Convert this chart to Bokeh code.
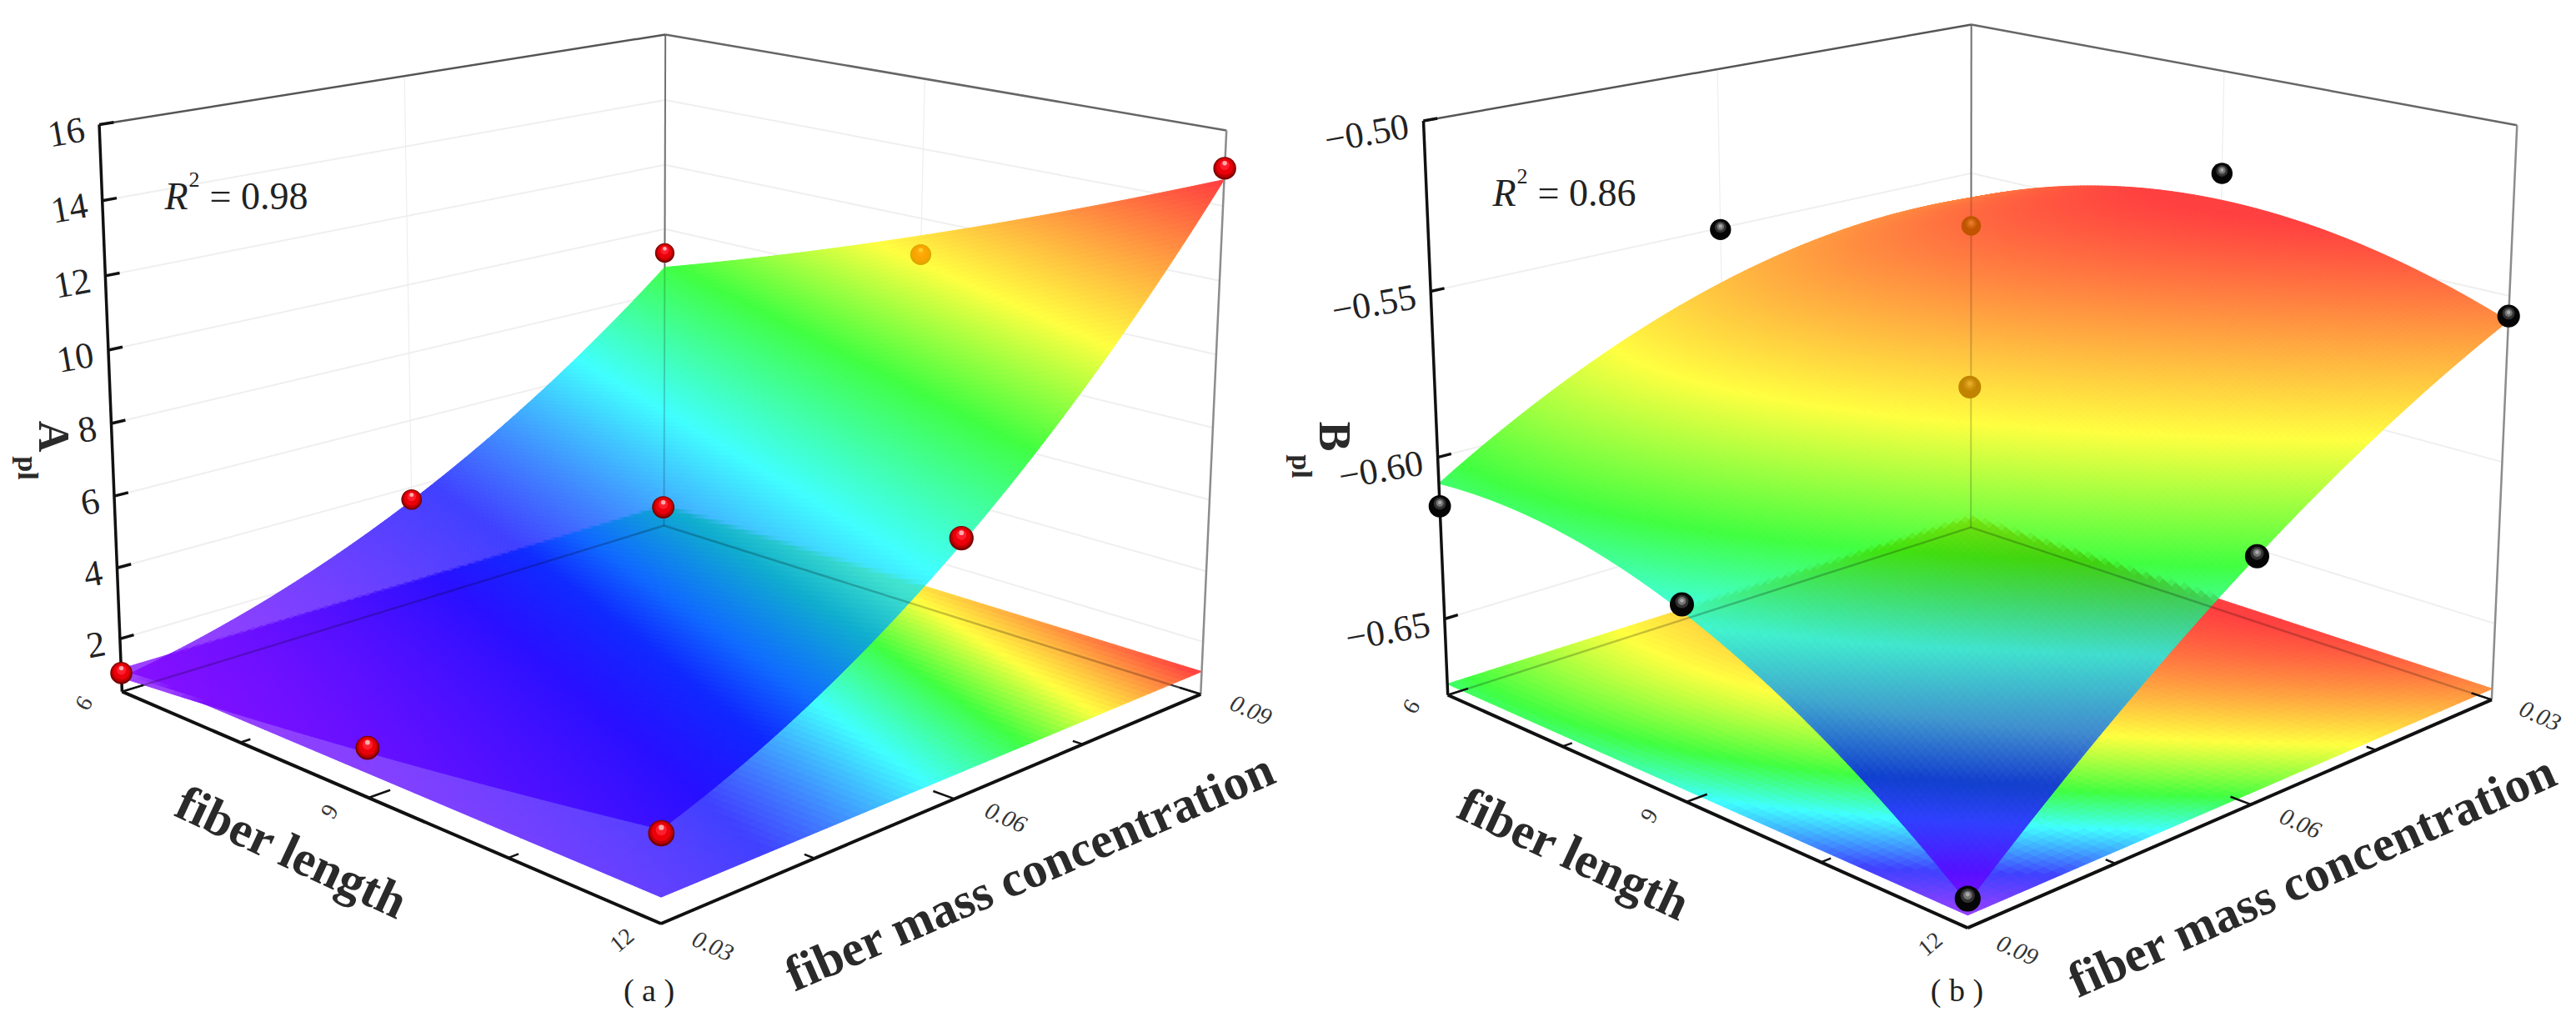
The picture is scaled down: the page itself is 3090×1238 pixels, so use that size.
import numpy as np
from bokeh.plotting import figure
from bokeh.models import Range1d
from bokeh.core.properties import value
from bokeh.embed import file_html
from bokeh.resources import INLINE

# ---------------- data ----------------
fiber_length = [6, 9, 12]
fiber_conc = [0.03, 0.06, 0.09]
length_ticks = [6, 9, 12]
conc_ticks = [0.03, 0.06, 0.09]

# rows: fiber length 6, 9, 12; columns: concentration 0.03, 0.06, 0.09
a_surface = [[0.9, 3.6, 8.8], [1.7, 5.15, 11.5], [2.8, 7.15, 14.7]]
a_points = [[1.03, 3.63, 9.25], [1.82, 5.74, 10.95], [2.7, 7.3, 15.0]]
a_behind = [[0, 0, 0], [0, 0, 1], [0, 0, 0]]
a_zticks = [2, 4, 6, 8, 10, 12, 14, 16]
a_zlabels = ["2", "4", "6", "8", "10", "12", "14", "16"]
a_colour_levels = [0.9, 3.9, 6.6, 8.9, 11.0, 14.6]

b_surface = [[-0.5585, -0.5675, -0.608], [-0.5405, -0.568, -0.6185], [-0.5575, -0.602, -0.667]]
b_points = [[-0.568, -0.5505, -0.615], [-0.532, -0.578, -0.6165], [-0.556, -0.602, -0.666]]
b_behind = [[1, 0, 0], [0, 1, 0], [0, 0, 0]]
b_zticks = [-0.65, -0.60, -0.55, -0.50]
b_zlabels = ["\u22120.65", "\u22120.60", "\u22120.55", "\u22120.50"]
b_colour_levels = [-0.668, -0.645, -0.621, -0.604, -0.580, -0.542]

SERIF = value("Liberation Serif")
STOPS = np.array([[128, 0, 255], [0, 0, 255], [0, 255, 255], [0, 255, 0], [255, 255, 0], [255, 0, 0]], float)
ALPHA = 0.75


def rainbow(z, levels):
    return np.stack([np.interp(z, levels, STOPS[:, c]) for c in range(3)], -1)


def hexes(rgb):
    c = np.clip(np.rint(rgb), 0, 255).astype(int).reshape(-1, 3)
    return ["#%02x%02x%02x" % tuple(r) for r in c]


def lagr(s):
    return np.stack([2 * (s - .5) * (s - 1), -4 * s * (s - 1), 2 * s * (s - .5)], -1)


p = figure(width=3086, height=1230, x_range=Range1d(0, 3086), y_range=Range1d(1230, 0),
           output_backend="svg", toolbar_location=None, min_border=0)
p.axis.visible = False
p.grid.visible = False
p.outline_line_color = None
p.background_fill_color = "white"


def panel(cfg):
    surf = np.array(cfg["surface"], float)
    pts = np.array(cfg["points"], float)
    z0, z1 = cfg["zlim"]
    levels = cfg["levels"]
    flip = cfg["flip"]

    # camera from the box corners
    cube = [(0, 0, 0), (1, 0, 0), (1, 1, 0), (0, 1, 0), (0, 0, 1), (0, 1, 1), (1, 1, 1)]
    A, B = [], []
    for (u, v, w), (x, y) in zip(cube, cfg["corners"]):
        A.append([u, v, w, 1, 0, 0, 0, 0, -x * u, -x * v, -x * w]); B.append(x)
        A.append([0, 0, 0, 0, u, v, w, 1, -y * u, -y * v, -y * w]); B.append(y)
    h = np.linalg.lstsq(np.array(A, float), np.array(B, float), rcond=None)[0]
    P = np.append(h, 1).reshape(3, 4)

    def W(z):
        return (np.asarray(z, float) - z0) / (z1 - z0)

    def proj(u, v, w):
        u, v, w = np.broadcast_arrays(np.asarray(u, float), np.asarray(v, float), np.asarray(w, float))
        d = P[2, 0] * u + P[2, 1] * v + P[2, 2] * w + P[2, 3]
        return ((P[0, 0] * u + P[0, 1] * v + P[0, 2] * w + P[0, 3]) / d,
                (P[1, 0] * u + P[1, 1] * v + P[1, 2] * w + P[1, 3]) / d)

    def depth(u, v, w):
        return P[2, 0] * u + P[2, 1] * v + P[2, 2] * w + P[2, 3]

    def zsurf(u, v):
        s = 1 - np.asarray(v, float) if flip else np.asarray(v, float)
        return np.einsum("...i,ij,...j->...", lagr(np.asarray(u, float)), surf, lagr(s))

    def col(z):
        return rainbow(z, levels)

    def seg(a, b, **kw):
        x0, y0 = proj(*a)
        x1, y1 = proj(*b)
        p.line([float(x0), float(x1)], [float(y0), float(y1)], **kw)

    # walls
    for z in cfg["zticks"]:
        w = W(z)
        if z != cfg["zticks"][-1]:
            seg((0, 0, w), (0, 1, w), line_color="#efefef", line_width=2)
            seg((0, 1, w), (1, 1, w), line_color="#efefef", line_width=2)
    seg((0, .5, 0), (0, .5, 1), line_color="#eeeeee", line_width=1.2)
    seg((.5, 1, 0), (.5, 1, 1), line_color="#eeeeee", line_width=1.2)
    seg((0, 1, 0), (0, 1, 1), line_color="#8c8c8c", line_width=2)
    seg((0, 1, 0), (1, 1, 0), line_color="#444444", line_width=2)
    seg((0, 0, 0), (0, 1, 0), line_color="#444444", line_width=2)

    # projected copy of the surface on a plane
    wp = float(W(cfg["plane"]))
    n = 70
    g = np.linspace(0, 1, n + 1)
    uu, vv = np.meshgrid(g, g, indexing="ij")
    sx, sy = proj(uu, vv, wp)
    ce = lambda a: (a[:-1, :-1] + a[1:, :-1] + a[1:, 1:] + a[:-1, 1:]) / 4
    cols = ALPHA * col(zsurf(ce(uu), ce(vv))) + (1 - ALPHA) * 255
    hx = hexes(cols)
    p.patches(xs=[[float(sx[i, j]), float(sx[i + 1, j]), float(sx[i + 1, j + 1]), float(sx[i, j + 1])] for i in range(n) for j in range(n)],
              ys=[[float(sy[i, j]), float(sy[i + 1, j]), float(sy[i + 1, j + 1]), float(sy[i, j + 1])] for i in range(n) for j in range(n)],
              fill_color=hx, line_color=hx, line_width=1)

    # inverse map of that plane, to let it show through the surface
    H = np.array([[P[r, 0], P[r, 1], P[r, 2] * wp + P[r, 3]] for r in range(3)])
    Hi = np.linalg.inv(H)

    def under(x, y):
        d = Hi[2, 0] * x + Hi[2, 1] * y + Hi[2, 2]
        a = (Hi[0, 0] * x + Hi[0, 1] * y + Hi[0, 2]) / d
        b = (Hi[1, 0] * x + Hi[1, 1] * y + Hi[1, 2]) / d
        inside = (a >= 0) & (a <= 1) & (b >= 0) & (b <= 1)
        c = ALPHA * col(zsurf(np.clip(a, 0, 1), np.clip(b, 0, 1))) + (1 - ALPHA) * 255
        return np.where(inside[..., None], c, 255.0)

    # surface mesh
    n = 140
    g = np.linspace(0, 1, n + 1)
    uu, vv = np.meshgrid(g, g, indexing="ij")
    sx, sy = proj(uu, vv, W(zsurf(uu, vv)))
    und = 0
    subs = (.125, .375, .625, .875)
    for fa in subs:
        for fb in subs:
            x = sx[:-1, :-1] * (1 - fa) * (1 - fb) + sx[1:, :-1] * fa * (1 - fb) + sx[:-1, 1:] * (1 - fa) * fb + sx[1:, 1:] * fa * fb
            y = sy[:-1, :-1] * (1 - fa) * (1 - fb) + sy[1:, :-1] * fa * (1 - fb) + sy[:-1, 1:] * (1 - fa) * fb + sy[1:, 1:] * fa * fb
            und = und + under(x, y) / 16
    cols = ALPHA * col(zsurf(ce(uu), ce(vv))) + (1 - ALPHA) * und
    hx = np.array(hexes(cols)).reshape(n, n)
    order = sorted(((i, j) for i in range(n) for j in range(n)), key=lambda q: q[0] - q[1])
    p.patches(xs=[[float(sx[i, j]), float(sx[i + 1, j]), float(sx[i + 1, j + 1]), float(sx[i, j + 1])] for i, j in order],
              ys=[[float(sy[i, j]), float(sy[i + 1, j]), float(sy[i + 1, j + 1]), float(sy[i, j + 1])] for i, j in order],
              fill_color=[str(hx[i, j]) for i, j in order], line_color=[str(hx[i, j]) for i, j in order], line_width=1)

    # box seen through the surface
    seg((0, 1, 0), (0, 1, 1), line_color="#000000", line_alpha=.18, line_width=2)
    seg((0, 1, 0), (1, 1, 0), line_color="#000000", line_alpha=.22, line_width=2.5)
    seg((0, 0, 0), (0, 1, 0), line_color="#000000", line_alpha=.22, line_width=2.5)

    # box
    seg((0, 0, 1), (0, 1, 1), line_color="#555555", line_width=2.5)
    seg((0, 1, 1), (1, 1, 1), line_color="#666666", line_width=2.5)
    seg((1, 1, 0), (1, 1, 1), line_color="#8c8c8c", line_width=2.5)
    seg((0, 0, 0), (0, 0, 1), line_color="#111111", line_width=3.5)
    seg((0, 0, 0), (1, 0, 0), line_color="#111111", line_width=4)
    seg((1, 0, 0), (1, 1, 0), line_color="#111111", line_width=4)

    # z ticks
    tx, ty = [], []
    for z in cfg["zticks"]:
        w = float(W(z))
        seg((0, 0, w), (0, .022, w), line_color="#111111", line_width=3.5)
        x, y = proj(0, 0, w)
        tx.append(float(x) - 18)
        ty.append(float(y) + cfg["zlab_dy"])
    p.text(tx, ty, text=cfg["zlabels"], text_font=SERIF, text_font_size="44px", text_color="#222222",
           text_align="right", text_baseline="middle", angle=10, angle_units="deg")

    # floor ticks
    for k in range(5):
        t = k / 4
        L = .034 if k % 2 == 0 else .016
        seg((t, 0, 0), (t, L, 0), line_color="#111111", line_width=2.5)
        seg((1, t, 0), (1 - L, t, 0), line_color="#111111", line_width=2.5)

    # floor tick labels
    for i, t in enumerate((0, .5, 1)):
        x, y = proj(t, -.06, 0)
        p.text([float(x)], [float(y)], text=[str(length_ticks[i])], text_font=SERIF, text_font_size="28px",
               text_color="#333333", text_align="center", text_baseline="middle",
               angle=40 if i == 2 else 60, angle_units="deg")
    for t, lab in zip((0, .5, 1), cfg["vlabels"]):
        x, y = proj(1.08, t, 0)
        p.text([float(x)], [float(y)], text=[lab], text_font=SERIF, text_font_style="italic", text_font_size="29px",
               text_color="#333333", text_align="center", text_baseline="middle", angle=-24, angle_units="deg")

    # measured points
    behind = cfg["behind"]
    rcent = depth(.5, .5, .5)
    for i in range(3):
        for j in range(3):
            u = i / 2
            v = 1 - j / 2 if flip else j / 2
            w = float(W(pts[i, j]))
            x, y = proj(u, v, w)
            x, y = float(x), float(y)
            d = 27 * rcent / depth(u, v, w)
            layers = cfg["ball"]
            if behind[i][j]:
                S = col(zsurf(np.array(u), np.array(v)))
                layers = [(f, dy, hexes(ALPHA * S + (1 - ALPHA) * np.array(c))[0]) for f, dy, c in layers]
            else:
                layers = [(f, dy, hexes(np.array(c, float))[0]) for f, dy, c in layers]
            for f, dy, c in layers:
                p.scatter([x], [y + dy * d], size=d * f, marker="circle", fill_color=c, line_color=None)

    # texts
    for (txt, x, y, ang, size) in cfg["titles"]:
        p.text([x], [y], text=[txt], text_font=SERIF, text_font_style="bold", text_font_size=size, text_color="#2a2a2a",
               text_align="center", text_baseline="middle", angle=ang, angle_units="deg")
    rx, ry = cfg["r2"]
    p.text([rx], [ry], text=["R"], text_font=SERIF, text_font_style="italic", text_font_size="46px", text_color="#222222", text_baseline="alphabetic")
    p.text([rx + 29], [ry - 20], text=["2"], text_font=SERIF, text_font_size="26px", text_color="#222222", text_baseline="alphabetic")
    p.text([rx + 54], [ry], text=[cfg["r2text"]], text_font=SERIF, text_font_size="46px", text_color="#222222", text_baseline="alphabetic")
    p.text([cfg["sub"][0]], [cfg["sub"][1]], text=[cfg["sub"][2]], text_font=SERIF, text_font_size="38px", text_color="#222222",
           text_align="center", text_baseline="middle")


RED = [(1.0, 0, (120, 0, 0)), (.88, -.03, (190, 0, 0)), (.72, -.06, (235, 0, 10)), (.42, -.13, (255, 30, 45)), (.2, -.22, (255, 170, 170))]
BLACK = [(1.0, 0, (5, 5, 5)), (.55, -.12, (50, 50, 50)), (.34, -.14, (115, 115, 115)), (.16, -.16, (170, 170, 170))]

panel(dict(surface=a_surface, points=a_points, behind=a_behind, zticks=a_zticks, zlabels=a_zlabels,
           zlim=(0.5, 16), levels=a_colour_levels, plane=1.15, flip=False, zlab_dy=5, ball=RED,
           corners=[(145, 827), (793, 1109), (1439, 831), (797, 632), (119, 150), (797, 40), (1471, 156)],
           vlabels=["0.03", "0.06", "0.09"],
           titles=[("fiber length", 350, 1022, -25, "60px"), ("fiber mass concentration", 1235, 1045, 23.5, "60px"),
                   ("A", 64, 523, -90, "52px"), ("pl", 33, 561, -90, "34px")],
           r2=(197, 235), r2text="= 0.98", sub=(778, 1187, "( a )")))

panel(dict(surface=b_surface, points=b_points, behind=b_behind, zticks=b_zticks, zlabels=b_zlabels,
           zlim=(-0.674, -0.5), levels=b_colour_levels, plane=-0.6705, flip=True, zlab_dy=6, ball=BLACK,
           corners=[(1736, 835), (2360, 1111), (2988, 841), (2364, 630), (1707, 144), (2364, 30), (3019, 149)],
           vlabels=["0.09", "0.06", "0.03"],
           titles=[("fiber length", 1888, 1024, -25, "60px"), ("fiber mass concentration", 2773, 1050, 24, "60px"),
                   ("B", 1600, 523, -90, "54px"), ("pl", 1561, 559, -90, "34px")],
           r2=(1790, 231), r2text="= 0.86", sub=(2347, 1187, "( b )")))

open("out.html", "w").write(file_html(p, INLINE))
